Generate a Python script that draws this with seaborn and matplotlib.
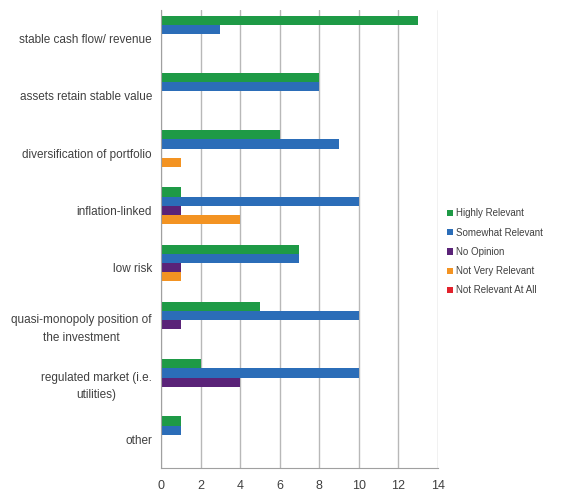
# Survey chart: relevance of infrastructure characteristics
import pandas as pd
import matplotlib
matplotlib.use('Agg')
import matplotlib.pyplot as plt
import seaborn as sns

# Data
categories = ['stable cash flow/ revenue', 'assets retain stable value',
              'diversification of portfolio', 'inflation-linked', 'low risk',
              'quasi-monopoly position of\nthe investment',
              'regulated market (i.e.\nutilities)', 'other']
series = ['Highly Relevant', 'Somewhat Relevant', 'No Opinion',
          'Not Very Relevant', 'Not Relevant At All']
highly_relevant = [13, 8, 6, 1, 7, 5, 2, 1]
somewhat_relevant = [3, 8, 9, 10, 7, 10, 10, 1]
no_opinion = [0, 0, 0, 1, 1, 1, 4, 0]
not_very_relevant = [0, 0, 1, 4, 1, 0, 0, 0]
not_relevant_at_all = [0, 0, 0, 0, 0, 0, 0, 0]
colors = ['#1e9a46', '#2b6db8', '#5a2378', '#f39322', '#e2222c']

values = [highly_relevant, somewhat_relevant, no_opinion,
          not_very_relevant, not_relevant_at_all]
rows = []
for s, vals in zip(series, values):
    for c, v in zip(categories, vals):
        rows.append({'category': c, 'series': s, 'count': v})
df = pd.DataFrame(rows)

sns.set_style('white')
plt.rcParams['font.family'] = ['Liberation Sans', 'DejaVu Sans']

fig = plt.figure(figsize=(5.62, 5.03), dpi=100)
ax = fig.add_axes([0.2865, 0.0696, 0.4925, 0.9105])

sns.barplot(data=df, y='category', x='count', hue='series', order=categories,
            hue_order=series, palette=colors, orient='h', width=0.8,
            saturation=1, ax=ax, legend=True, errorbar=None, linewidth=0)

ax.set_xlim(0, 14)
ax.set_xticks(range(0, 15, 2))
ax.set_xlabel('')
ax.set_ylabel('')
ax.xaxis.grid(True, color='#b8b8b8', linewidth=1)
ax.set_axisbelow(True)
for side in ['top', 'right']:
    ax.spines[side].set_visible(False)
for side in ['left', 'bottom']:
    ax.spines[side].set_color('#a0a0a0')
ax.tick_params(axis='both', colors='#a0a0a0', labelcolor='#404040',
               labelsize=8.5, length=3, width=0.8)
ax.tick_params(axis='x', labelsize=9, pad=6)
for lab in ax.get_yticklabels():
    lab.set_multialignment('center')
    lab.set_linespacing(1.6)

handles, labels = ax.get_legend_handles_labels()
ax.get_legend().remove()
fig.legend(handles, labels, loc='upper left', bbox_to_anchor=(0.78, 0.603),
           frameon=False, fontsize=7, handlelength=0.6, handleheight=0.6,
           handletextpad=0.3, labelspacing=0.95, labelcolor='#404040')

fig.savefig('out.png', dpi=100)
